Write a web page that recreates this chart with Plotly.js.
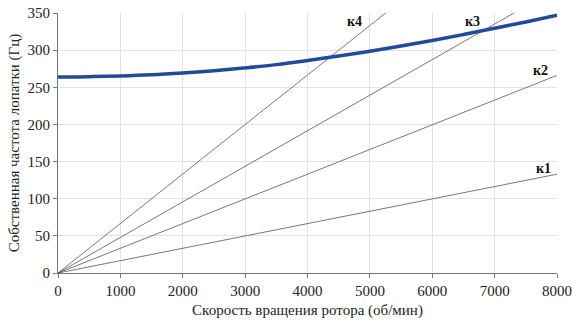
<!DOCTYPE html>
<html><head><meta charset="utf-8">
<script src="https://cdn.plot.ly/plotly-3.0.1.min.js"></script>
<style>body{margin:0;background:#fff}#c{width:572px;height:322px}</style>
</head><body><div id="c"></div>
<script>
const speed = [0,500,1000,1500,2000,2500,3000,3500,4000,4500,5000,5500,6000,6500,7000,7500,8000];
const natFreq = [264,264.3,265.2,266.8,269.3,272.3,276,280.5,286,292,298.5,305.5,313,321,329.5,338,347];
const orderNames = ['к1','к2','к3','к4'];
const orderX = [0, 8000];
const orderY = [[0,133],[0,266],[0,383],[0,533]];
const labelX = [7780, 7730, 6640, 4760];
const labelY = [141, 273, 338, 338];
const xTicks = [0,1000,2000,3000,4000,5000,6000,7000,8000];
const yTicks = [0,50,100,150,200,250,300,350];

const traces = orderNames.map((n,i)=>({x:orderX,y:orderY[i],mode:'lines',line:{color:'#555',width:0.8},hoverinfo:'skip'}));
traces.push({x:speed,y:natFreq,mode:'lines',line:{color:'#1f4b99',width:3.5,shape:'spline'}});
const font = {family:'Liberation Serif', color:'#222', size:15};
const layout = {
  width:572,height:322,margin:{l:58,r:15,t:13,b:49},showlegend:false,
  paper_bgcolor:'#fff',plot_bgcolor:'#fff',font:font,
  xaxis:{range:[0,8000],tickvals:xTicks,showgrid:true,gridcolor:'#e3e3e3',gridwidth:1,zeroline:false,
    showline:true,linecolor:'#777',linewidth:1,ticks:'outside',ticklen:4,tickcolor:'#777',
    tickfont:font,
    title:{text:'Скорость вращения ротора (об/мин)',font:font,standoff:6}},
  yaxis:{range:[0,350],tickvals:yTicks,showgrid:true,gridcolor:'#e3e3e3',gridwidth:1,zeroline:false,
    showline:true,linecolor:'#777',linewidth:1,ticks:'outside',ticklen:4,tickcolor:'#777',
    tickfont:font,
    title:{text:'Собственная частота лопатки (Гц)',font:font,standoff:4}},
  annotations: orderNames.map((n,i)=>({x:labelX[i],y:labelY[i],text:'<b>'+n+'</b>',showarrow:false,
    font:{family:font.family,size:14,color:'#111'}}))
};
Plotly.newPlot('c',traces,layout,{displayModeBar:false,staticPlot:true});
</script></body></html>
